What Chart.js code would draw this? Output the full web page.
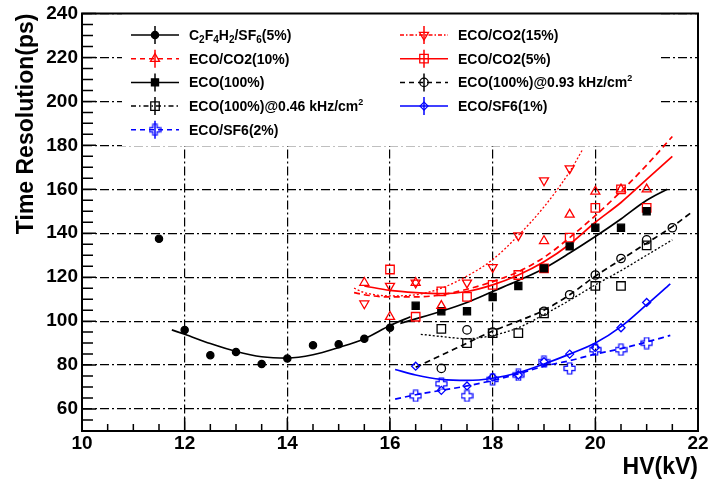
<!DOCTYPE html>
<html>
<head>
<meta charset="utf-8">
<script src="https://cdn.jsdelivr.net/npm/chart.js@4.4.0/dist/chart.umd.min.js"></script>
<style>
  html, body { margin: 0; padding: 0; background: #fff; }
  #wrap { width: 714px; height: 481px; position: relative; }
</style>
</head>
<body>
<div id="wrap"><canvas id="c"></canvas></div>
<script>
// values: HV in kV, time resolution in ps
const c2f4HV  = [11.5, 12, 12.5, 13, 13.5, 14, 14.5, 15, 15.5, 16];
const c2f4Res = [137.5, 96, 84.5, 86, 80.5, 83, 89, 89.5, 92, 97];
const c2f4FitHV  = [11.75, 12, 12.5, 13, 13.5, 14, 14.5, 15, 15.5, 16, 16.4];
const c2f4FitRes = [96, 94, 89.8, 86.2, 83.8, 83.2, 84.7, 88, 92, 98, 102];

const co2_10HV  = [15.5, 16, 16.5, 17, 19, 19.5, 20, 20.5, 21];
const co2_10Res = [117.5, 102, 117.5, 107, 136.5, 148.5, 159, 160, 160];
const co2_10FitHV  = [15.3, 15.5, 16, 16.5, 17, 17.5, 18, 18.5, 19, 19.5, 20, 20.5, 21, 21.5];
const co2_10FitRes = [113, 112, 111, 111, 112, 114.5, 118, 122.5, 129, 138, 148, 159, 171, 184];

const eco100HV  = [16.5, 17, 17.5, 18, 18.5, 19, 19.5, 20, 20.5, 21];
const eco100Res = [107, 104.5, 104.5, 111, 116, 124, 134, 142.5, 142.5, 150];
const eco100FitHV  = [16.2, 16.5, 17, 17.5, 18, 18.5, 19, 19.5, 20, 20.5, 21, 21.4];
const eco100FitRes = [99, 101, 104.5, 108.5, 113.5, 118.5, 124, 131, 138.5, 146.5, 155, 160];

const eco046HV  = [17, 17.5, 18, 18.5, 19, 20, 20.5, 21];
const eco046Res = [96.5, 90, 94.5, 94.5, 103.5, 116, 116, 134.5];
const eco046FitHV  = [16.6, 17, 17.5, 18, 18.5, 19, 19.5, 20, 20.5, 21, 21.5];
const eco046FitRes = [94, 93, 92, 93.5, 97, 103, 109.5, 116.5, 123, 130, 137];

const sf6_2HV  = [16.5, 17, 17.5, 18, 18.5, 19, 19.5, 20, 20.5, 21];
const sf6_2Res = [66, 71.5, 66, 73.5, 75.5, 81.5, 78.5, 87, 87, 90];
const sf6_2FitHV  = [16.1, 16.5, 17, 17.5, 18, 18.5, 19, 19.5, 20, 20.5, 21, 21.46];
const sf6_2FitRes = [64.5, 66.5, 68.5, 70.5, 73, 76, 79.5, 82, 85, 87.5, 90.5, 93.5];

const co2_15HV  = [15.5, 16, 16.5, 17.5, 18, 18.5, 19, 19.5];
const co2_15Res = [108, 116, 117.5, 117.5, 124.5, 139, 164, 169.5];
const co2_15FitHV  = [15.3, 15.5, 16, 16.5, 17, 17.5, 18, 18.5, 19, 19.5, 19.75];
const co2_15FitRes = [115, 113, 111.5, 112, 115, 120.5, 128, 139, 152, 168, 178];

const co2_5HV  = [16, 16.5, 17, 17.5, 18, 18.5, 19, 19.5, 20, 20.5, 21];
const co2_5Res = [123.5, 102, 113.5, 111, 116.5, 121, 124, 138, 151.5, 160, 151.5];
const co2_5FitHV  = [15.5, 16, 16.5, 17, 17.5, 18, 18.5, 19, 19.5, 20, 20.5, 21, 21.5];
const co2_5FitRes = [116, 114, 113, 112.5, 113.5, 116.5, 121, 127, 135, 145, 154, 164.5, 175];

const eco093HV  = [17, 17.5, 18, 19, 19.5, 20, 20.5, 21, 21.5];
const eco093Res = [78.5, 96, 95, 104.5, 112, 121, 128.5, 137, 142.5];
const eco093FitHV  = [16.5, 17, 17.5, 18, 18.5, 19, 19.5, 20, 20.5, 21, 21.5, 21.9];
const eco093FitRes = [79, 84.5, 90, 95.5, 100, 105, 112, 120.5, 128, 135.5, 143, 150];

const sf6_1HV  = [16.5, 17, 17.5, 18, 18.5, 19, 19.5, 20, 20.5, 21];
const sf6_1Res = [79.5, 68.5, 70.5, 74.5, 75.5, 81.5, 85, 88, 97, 108.5];
const sf6_1FitHV  = [16.1, 16.5, 17, 17.5, 18, 18.5, 19, 19.5, 20, 20.5, 21, 21.46];
const sf6_1FitRes = [78, 75.5, 73.5, 73, 74, 76.5, 80.5, 85, 90, 97.5, 107.5, 117];

const yTickVals = [60, 80, 100, 120, 140, 160, 180, 200, 220, 240];

const RED = '#ff0000', BLUE = '#0000ff', BLACK = '#000000';
const FONT = '"Liberation Sans", Arial, Helvetica, sans-serif';

// ROOT style open cross marker
function openCross(color) {
  const cv = document.createElement('canvas');
  cv.width = cv.height = 13;
  const g = cv.getContext('2d');
  const c = 6.5, w = 2.2, L = 5.5;
  g.strokeStyle = color;
  g.lineWidth = 1.2;
  g.beginPath();
  g.moveTo(c - w, c - L); g.lineTo(c + w, c - L); g.lineTo(c + w, c - w);
  g.lineTo(c + L, c - w); g.lineTo(c + L, c + w); g.lineTo(c + w, c + w);
  g.lineTo(c + w, c + L); g.lineTo(c - w, c + L); g.lineTo(c - w, c + w);
  g.lineTo(c - L, c + w); g.lineTo(c - L, c - w); g.lineTo(c - w, c - w);
  g.closePath();
  g.stroke();
  return cv;
}

const series = [
  { label: 'C₂F₄H₂/SF₆(5%)', hv: c2f4HV, res: c2f4Res, fitHv: c2f4FitHV, fitRes: c2f4FitRes,
    color: BLACK, pointStyle: 'circle', radius: 3.6, filled: true, dash: [], legendDash: [], col: 0, row: 0 },
  { label: 'ECO/CO2(10%)', hv: co2_10HV, res: co2_10Res, fitHv: co2_10FitHV, fitRes: co2_10FitRes,
    color: RED, pointStyle: 'triangle', radius: 5.2, filled: false, dash: [6, 4], legendDash: [5, 4], col: 0, row: 1 },
  { label: 'ECO(100%)', hv: eco100HV, res: eco100Res, fitHv: eco100FitHV, fitRes: eco100FitRes,
    color: BLACK, pointStyle: 'rect', radius: 5, filled: true, dash: [], legendDash: [], col: 0, row: 2 },
  { label: 'ECO(100%)@0.46 kHz/cm²', hv: eco046HV, res: eco046Res, fitHv: eco046FitHV, fitRes: eco046FitRes,
    color: BLACK, pointStyle: 'rect', radius: 6, filled: false, dash: [2, 2], legendDash: [5, 3, 1.5, 3], col: 0, row: 3 },
  { label: 'ECO/SF6(2%)', hv: sf6_2HV, res: sf6_2Res, fitHv: sf6_2FitHV, fitRes: sf6_2FitRes,
    color: BLUE, pointStyle: openCross(BLUE), radius: 6, filled: false, dash: [6, 4], legendDash: [5, 4], col: 0, row: 4 },
  { label: 'ECO/CO2(15%)', hv: co2_15HV, res: co2_15Res, fitHv: co2_15FitHV, fitRes: co2_15FitRes,
    color: RED, pointStyle: 'triangle', rotation: 180, radius: 5.2, filled: false, dash: [2, 2], legendDash: [4, 2, 1.5, 2], col: 1, row: 0 },
  { label: 'ECO/CO2(5%)', hv: co2_5HV, res: co2_5Res, fitHv: co2_5FitHV, fitRes: co2_5FitRes,
    color: RED, pointStyle: 'rect', radius: 6, filled: false, dash: [], legendDash: [], col: 1, row: 1 },
  { label: 'ECO(100%)@0.93 kHz/cm²', hv: eco093HV, res: eco093Res, fitHv: eco093FitHV, fitRes: eco093FitRes,
    color: BLACK, pointStyle: 'circle', radius: 4.2, filled: false, dash: [6, 4], legendDash: [5, 4], col: 1, row: 2 },
  { label: 'ECO/SF6(1%)', hv: sf6_1HV, res: sf6_1Res, fitHv: sf6_1FitHV, fitRes: sf6_1FitRes,
    color: BLUE, pointStyle: 'rectRot', radius: 4, filled: false, dash: [], legendDash: [], col: 1, row: 3 }
];

const pts = (xs, ys) => xs.map((x, i) => ({ x: x, y: ys[i] }));

const datasets = [];
series.forEach(s => {
  datasets.push({
    label: s.label,
    data: pts(s.hv, s.res),
    showLine: false,
    order: 0,
    pointStyle: s.pointStyle,
    rotation: s.rotation || 0,
    pointRadius: s.radius,
    pointBorderWidth: 1.3,
    pointBorderColor: s.color,
    pointBackgroundColor: s.filled ? s.color : 'rgba(0,0,0,0)'
  });
});
series.forEach(s => {
  datasets.push({
    label: s.label + ' fit',
    data: pts(s.fitHv, s.fitRes),
    showLine: true,
    order: 1,
    pointRadius: 0,
    borderColor: s.color,
    borderWidth: s.dash.length === 2 && s.dash[0] === 2 ? 1.3 : 1.7,
    borderDash: s.dash,
    cubicInterpolationMode: 'monotone',
    fill: false
  });
});

function drawMarker(ctx, s, x, y) {
  ctx.fillStyle = s.filled ? s.color : 'rgba(0,0,0,0)';
  ctx.strokeStyle = s.color;
  ctx.lineWidth = 1.3;
  ctx.setLineDash([]);
  if (Chart.helpers && Chart.helpers.drawPoint) {
    Chart.helpers.drawPoint(ctx, { pointStyle: s.pointStyle, rotation: s.rotation || 0, radius: s.radius, borderWidth: 1.3 }, x, y);
  } else {
    ctx.beginPath(); ctx.arc(x, y, s.radius, 0, Math.PI * 2); ctx.fill(); ctx.stroke();
  }
}

// legend text with sub/superscript digits drawn as smaller text
const SUB = '₀₁₂₃₄₅₆₇₈₉', SUP = { '²': '2' };
function drawRichText(ctx, text, x, y) {
  let cx = x;
  for (const ch of text) {
    let t = ch, size = 14, dy = 0;
    const si = SUB.indexOf(ch);
    if (si >= 0) { t = String(si); size = 10; dy = 4; }
    else if (SUP[ch]) { t = SUP[ch]; size = 9; dy = -5; }
    ctx.font = 'bold ' + size + 'px ' + FONT;
    ctx.fillText(t, cx, y + dy);
    cx += ctx.measureText(t).width;
  }
}

// white legend pad with two columns, ROOT style
const legendPad = {
  id: 'legendPad',
  afterDatasetsDraw(chart) {
    const ctx = chart.ctx;
    ctx.save();
    ctx.fillStyle = '#fff';
    ctx.fillRect(122, 11, 539, 135);
    series.forEach(s => {
      const x0 = s.col === 0 ? 131 : 400;
      const y = 35 + s.row * 23.7;
      ctx.strokeStyle = s.color;
      ctx.lineWidth = 1.5;
      ctx.setLineDash(s.legendDash);
      ctx.beginPath(); ctx.moveTo(x0, y); ctx.lineTo(x0 + 48, y); ctx.stroke();
      ctx.setLineDash([]);
      ctx.beginPath(); ctx.moveTo(x0 + 24, y - 9); ctx.lineTo(x0 + 24, y + 9); ctx.stroke();
      drawMarker(ctx, s, x0 + 24, y);
      ctx.fillStyle = '#000';
      ctx.textAlign = 'left';
      ctx.textBaseline = 'middle';
      drawRichText(ctx, s.label, x0 + 58, y + 1);
    });
    ctx.restore();
  }
};

// inside ticks and solid frame
const frameTicks = {
  id: 'frameTicks',
  afterDraw(chart) {
    const { ctx, chartArea: a, scales: { x, y } } = chart;
    ctx.save();
    ctx.strokeStyle = '#000';
    ctx.lineWidth = 1.5;
    ctx.setLineDash([]);
    ctx.beginPath();
    for (let v = 10; v <= 22.001; v += 0.5) {
      const px = x.getPixelForValue(v);
      const len = Math.abs(v / 2 - Math.round(v / 2)) < 1e-6 ? 13 : 7;
      ctx.moveTo(px, a.bottom); ctx.lineTo(px, a.bottom - len);
    }
    for (let v = 50; v <= 240.001; v += 5) {
      const py = y.getPixelForValue(v);
      const len = (v % 20 === 0) ? 14 : 11;
      ctx.moveTo(a.left, py); ctx.lineTo(a.left + len, py);
    }
    ctx.stroke();
    ctx.lineWidth = 2;
    ctx.strokeRect(a.left, a.top, a.right - a.left, a.bottom - a.top);
    ctx.restore();
  }
};

new Chart(document.getElementById('c'), {
  type: 'scatter',
  data: { datasets: datasets },
  options: {
    responsive: true,
    maintainAspectRatio: false,
    animation: false,
    layout: { padding: { top: 10, right: 16, left: 0, bottom: 0 } },
    plugins: { legend: { display: false }, tooltip: { enabled: false } },
    scales: {
      x: {
        type: 'linear', min: 10, max: 22,
        afterFit: s => { s.height = 50; },
        ticks: { stepSize: 2, color: '#000', maxRotation: 0, padding: 3,
                 font: { family: FONT, size: 19, weight: 'bold', lineHeight: 1 } },
        grid: { color: '#000', lineWidth: 1.2, drawTicks: false },
        border: { display: true, color: '#000', width: 2, dash: [9, 3, 2, 3] },
        title: { display: true, text: 'HV(kV)', align: 'end', color: '#000',
                 font: { family: FONT, size: 23, weight: 'bold' }, padding: { top: 0, bottom: 0 } }
      },
      y: {
        type: 'linear', min: 50, max: 240,
        afterBuildTicks: s => { s.ticks = yTickVals.map(v => ({ value: v })); },
        afterFit: s => { s.width = 82; },
        ticks: { color: '#000', padding: 4,
                 font: { family: FONT, size: 19, weight: 'bold', lineHeight: 1 } },
        grid: { color: '#000', lineWidth: 1.2, drawTicks: false },
        border: { display: true, color: '#000', width: 2, dash: [9, 3, 2, 3] },
        title: { display: true, text: 'Time Resolution(ps)', align: 'end', color: '#000',
                 font: { family: FONT, size: 23, weight: 'bold' }, padding: { top: 13, bottom: 0 } }
      }
    }
  },
  plugins: [legendPad, frameTicks]
});
</script>
</body>
</html>
